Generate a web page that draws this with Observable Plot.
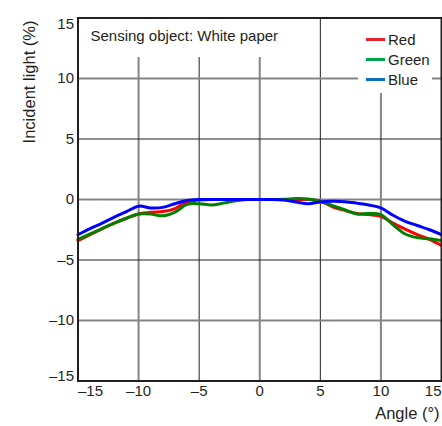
<!DOCTYPE html>
<html>
<head>
<meta charset="utf-8">
<script src="https://cdn.jsdelivr.net/npm/d3@7"></script>
<script src="https://cdn.jsdelivr.net/npm/@observablehq/plot@0.6"></script>
<style>
  html, body { margin: 0; padding: 0; background: #fff; }
  #chart svg { display: block; }
</style>
</head>
<body>
<div id="chart"></div>
<script>
// ---- data ----
const angles = [-15,-14,-13,-12,-11,-10,-9,-8,-7,-6,-5,-4,-3,-2,-1,0,1,2,3,4,5,6,7,8,9,10,11,12,13,14,15];
const seriesNames = ["Red", "Green", "Blue"];
const redValues   = [-3.4,-2.9,-2.4,-1.95,-1.55,-1.2,-1.05,-1.0,-0.75,-0.2,-0.05,0,0,0,0,0,0,0,0,0,-0.15,-0.6,-0.9,-1.15,-1.25,-1.4,-1.95,-2.45,-2.9,-3.3,-3.8];
const greenValues = [-3.3,-2.85,-2.4,-1.95,-1.55,-1.2,-1.2,-1.35,-1.05,-0.4,-0.35,-0.45,-0.3,-0.1,0,0,0,0.02,0.08,0.05,-0.15,-0.5,-0.85,-1.2,-1.15,-1.25,-2.1,-2.85,-3.15,-3.25,-3.4];
const blueValues  = [-2.9,-2.4,-1.95,-1.45,-1.0,-0.55,-0.7,-0.65,-0.35,-0.08,0,0,0,0,0,0,0,-0.05,-0.2,-0.35,-0.2,-0.15,-0.18,-0.3,-0.45,-0.7,-1.3,-1.8,-2.15,-2.5,-2.9];
const xTicks = [-15,-10,-5,0,5,10,15];
const yTicks = [-15,-10,-5,0,5,10,15];
const titleText = "Sensing object: White paper";
const xLabel = "Angle (°)";
const yLabel = "Incident light (%)";

// ---- styles ----
const colors = ["#e8232b", "#00a44c", "#0a70be"];
const font = "'Liberation Sans', Arial, Helvetica, sans-serif";
const tickFont = 15;

const valuesByName = {Red: redValues, Green: greenValues, Blue: blueValues};
const rows = seriesNames.flatMap(name => angles.map((a, i) => ({angle: a, value: valuesByName[name][i], series: name})));

const major = xTicks.filter(t => Math.abs(t) < 15 && t % 10 === 0);
const minor = xTicks.filter(t => Math.abs(t) < 15 && t % 10 !== 0);
const yMajor = yTicks.filter(t => Math.abs(t) < 15 && t % 10 === 0);
const yMinor = yTicks.filter(t => Math.abs(t) < 15 && t % 10 !== 0);
const inner = xTicks.filter(t => Math.abs(t) < 15);
const yInner = yTicks.filter(t => Math.abs(t) < 15);
const fmt = d => d < 0 ? "\u2013" + Math.abs(d) : String(d);
const ax = {tickSize: 0, tickPadding: 4, tickFormat: fmt, label: null, fontSize: tickFont};

const chart = Plot.plot({
  width: 442,
  height: 426,
  marginLeft: 77.5,
  marginRight: 1,
  marginTop: 17.5,
  marginBottom: 45.5,
  style: {fontFamily: font, fontSize: "15px", color: "#231f20", background: "#fff"},
  x: {domain: [-15, 15]},
  y: {domain: [-15, 15]},
  color: {domain: seriesNames, range: colors},
  marks: [
    Plot.ruleX(major, {stroke: "#858585", strokeWidth: 2}),
    Plot.ruleX(minor, {stroke: "#231f20", strokeWidth: 1}),
    Plot.ruleY(yMajor, {stroke: "#858585", strokeWidth: 2}),
    Plot.ruleY(yMinor, {stroke: "#231f20", strokeWidth: 1}),
    Plot.line(rows, {x: "angle", y: "value", z: "series", stroke: "series", strokeWidth: 3, curve: "catmull-rom"}),
    Plot.axisX(inner, {...ax}),
    Plot.axisX([xTicks[0]], {...ax, textAnchor: "start"}),
    Plot.axisX([xTicks[xTicks.length - 1]], {...ax, textAnchor: "end"}),
    Plot.axisY(yInner, {...ax}),
    Plot.axisY([yTicks[yTicks.length - 1]], {...ax, lineAnchor: "top"}),
    Plot.axisY([yTicks[0]], {...ax, lineAnchor: "bottom"}),
    Plot.text([titleText], {frameAnchor: "top-left", dx: 12.5, dy: 18.5, textAnchor: "start", lineAnchor: "middle", fontSize: 15}),
    Plot.text([xLabel], {frameAnchor: "bottom-right", dx: -2, dy: 32.5, textAnchor: "end", lineAnchor: "middle", fontSize: 16.5}),
    Plot.text([yLabel], {frameAnchor: "top-left", dx: -48, dy: 2.5, rotate: -90, textAnchor: "end", lineAnchor: "middle", fontSize: 16.5}),
    Plot.frame({stroke: "#231f20", strokeWidth: 2})
  ]
});

document.getElementById("chart").append(chart);

// white panels behind title and legend (cover gridlines)
const svg = d3.select(chart);
const rules = chart.querySelectorAll('g[aria-label="rule"]');
const lastRule = rules[rules.length - 1];
const panels = [
  {x: 78.5, y: 18.5, w: 212, h: 38.5},
  {x: 358, y: 18.5, w: 74, h: 74.5}
];
for (const p of panels) {
  const r = document.createElementNS("http://www.w3.org/2000/svg", "rect");
  r.setAttribute("x", p.x); r.setAttribute("y", p.y);
  r.setAttribute("width", p.w); r.setAttribute("height", p.h);
  r.setAttribute("fill", "#fff");
  lastRule.after(r);
}

// legend
const legend = svg.append("g").attr("font-family", font).attr("font-size", 15)
  .attr("fill", "#231f20").attr("text-anchor", "start");
seriesNames.forEach((name, i) => {
  const y = 39.5 + i * 20;
  legend.append("line").attr("x1", 366).attr("x2", 385).attr("y1", y).attr("y2", y)
    .attr("stroke", colors[i]).attr("stroke-width", 3);
  legend.append("text").attr("x", 388).attr("y", y).attr("dy", "0.35em").text(name);
});
</script>
</body>
</html>
